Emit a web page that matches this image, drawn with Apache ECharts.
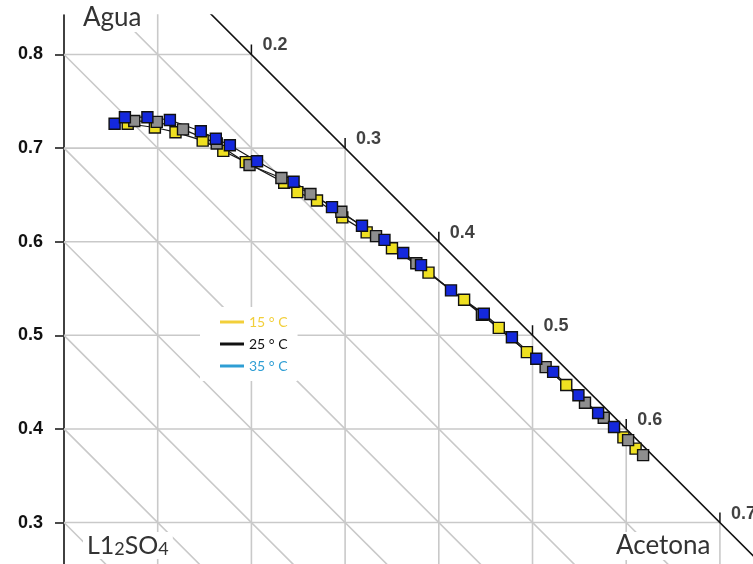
<!DOCTYPE html>
<html>
<head>
<meta charset="utf-8">
<script src="https://cdn.jsdelivr.net/npm/echarts@6/dist/echarts.min.js"></script>
<style>html,body{margin:0;padding:0;background:#fff}#c{width:753px;height:564px}</style>
</head>
<body>
<div id="c"></div>
<script>
// ---- data ----
const yTicks = [0.3, 0.4, 0.5, 0.6, 0.7, 0.8];
const xGrid = [0.1, 0.2, 0.3, 0.4, 0.5, 0.6, 0.7];
const diagGrid = [0.3, 0.4, 0.5, 0.6, 0.7, 0.8, 0.9];
const edgeTicks = [0.2, 0.3, 0.4, 0.5, 0.6, 0.7];
const legendNames = ['15 ° C', '25 ° C', '35 ° C'];

const s15 = [[0.068,0.726],[0.097,0.722],[0.119,0.717],[0.148,0.708],[0.170,0.697],[0.194,0.685],[0.235,0.663],[0.249,0.653],[0.270,0.644],[0.297,0.626],[0.323,0.610],[0.350,0.593],[0.389,0.567],[0.427,0.538],[0.464,0.508],[0.494,0.482],[0.536,0.447],[0.597,0.391],[0.610,0.379]];
const s25 = [[0.075,0.729],[0.099,0.728],[0.127,0.720],[0.163,0.705],[0.198,0.682],[0.232,0.668],[0.263,0.651],[0.296,0.632],[0.333,0.606],[0.376,0.577],[0.446,0.522],[0.514,0.466],[0.556,0.428],[0.576,0.412],[0.602,0.388],[0.618,0.372]];
const s35 = [[0.054,0.726],[0.065,0.733],[0.089,0.733],[0.113,0.730],[0.146,0.718],[0.162,0.710],[0.177,0.703],[0.206,0.686],[0.245,0.664],[0.286,0.637],[0.318,0.617],[0.342,0.602],[0.362,0.588],[0.381,0.575],[0.413,0.548],[0.448,0.523],[0.478,0.498],[0.504,0.475],[0.522,0.461],[0.549,0.436],[0.570,0.417],[0.587,0.402]];

const yMin = 0.2557, yMax = 0.8422, xMax = 0.7353;
const gridColor = '#c9c9c9';

const series = [];
function seg(p1, p2, color, width, z) {
  series.push({type:'line', data:[p1,p2], symbol:'none', silent:true, clip:true,
    lineStyle:{color:color, width:width}, z:z||1, animation:false});
}
yTicks.forEach(c => seg([0,c],[1-c,c], gridColor, 1.6));
xGrid.forEach(c => seg([c,1-c],[c,yMin-0.05], gridColor, 1.6));
diagGrid.forEach(c => seg([0,c],[c,0], gridColor, 1.6));
seg([0,1],[1,0], '#111', 1.6, 3);
edgeTicks.forEach(c => seg([c,1-c],[c,1-c+0.0107], '#111', 1.5, 3));

series.push({type:'scatter', data: edgeTicks.map(c => [c, 1-c]), symbolSize:0, silent:true, z:4,
  label:{show:true, position:[11,-9], verticalAlign:'middle', formatter:p => p.value[0].toFixed(1),
    fontFamily:'Liberation Sans', fontWeight:'bold', fontSize:18, color:'#111'}});

function dataSeries(name, d, fill) {
  series.push({name:name, type:'line', data:d, symbol:'rect', symbolSize:11, z:5,
    lineStyle:{color:'#1a1a1a', width:1.2},
    itemStyle:{color:fill, borderColor:'#111', borderWidth:1.4}, animation:false});
}
dataSeries('d15', s15, '#efe021');
dataSeries('d25', s25, '#8e8e8e');
dataSeries('d35', s35, '#1428dc');

const legColors = ['#f2cf3a', '#111111', '#2f9ed4'];
legendNames.forEach((n,i) => series.push({name:n, type:'line', data:[], symbol:'none', color:legColors[i], lineStyle:{color:legColors[i]}}));

const chart = echarts.init(document.getElementById('c'), null, {renderer:'canvas'});
chart.setOption({
  animation:false,
  backgroundColor:'#fff',
  grid:{left:64, right:0, top:15, bottom:0, containLabel:false},
  xAxis:{type:'value', min:0, max:xMax, show:false, splitLine:{show:false}},
  yAxis:{type:'value', min:yMin, max:yMax,
    axisLine:{show:true, lineStyle:{color:'#111', width:1.6}},
    axisTick:{show:true, length:9, customValues:yTicks, lineStyle:{color:'#111', width:1.5}},
    axisLabel:{customValues:yTicks, margin:21, fontFamily:'Liberation Sans', fontWeight:'bold', fontSize:18, color:'#111',
      formatter:v => v.toFixed(1)},
    splitLine:{show:false}},
  legend:{data: legendNames.map((n,i) => ({name:n, textStyle:{color:legColors[i]}})),
    orient:'vertical', left:200, top:307, itemWidth:24, itemHeight:3, icon:'rect', itemGap:8,
    backgroundColor:'#fff', padding:[8,10,8,20],
    textStyle:{fontFamily:'Lato', fontSize:14}},
  graphic:[
    {type:'text', left:79, top:4, z:10, style:{text:'Agua', fontFamily:'Lato', fontSize:26, fill:'#333', backgroundColor:'#fff', padding:[1,4]}},
    {type:'text', left:83, top:532, z:10, style:{text:'{a|L1}{s|2}{a|SO}{s|4}', backgroundColor:'#fff', padding:[1,4],
      rich:{a:{fontFamily:'Lato', fontSize:25, fill:'#333', color:'#333'}, s:{fontFamily:'Lato', fontSize:18, fill:'#333', color:'#333', padding:[7,0,0,0]}}}},
    {type:'text', left:612, top:532, z:10, style:{text:'Acetona', fontFamily:'Lato', fontSize:26, fill:'#333', backgroundColor:'#fff', padding:[1,4]}}
  ],
  series:series
});
</script>
</body>
</html>
